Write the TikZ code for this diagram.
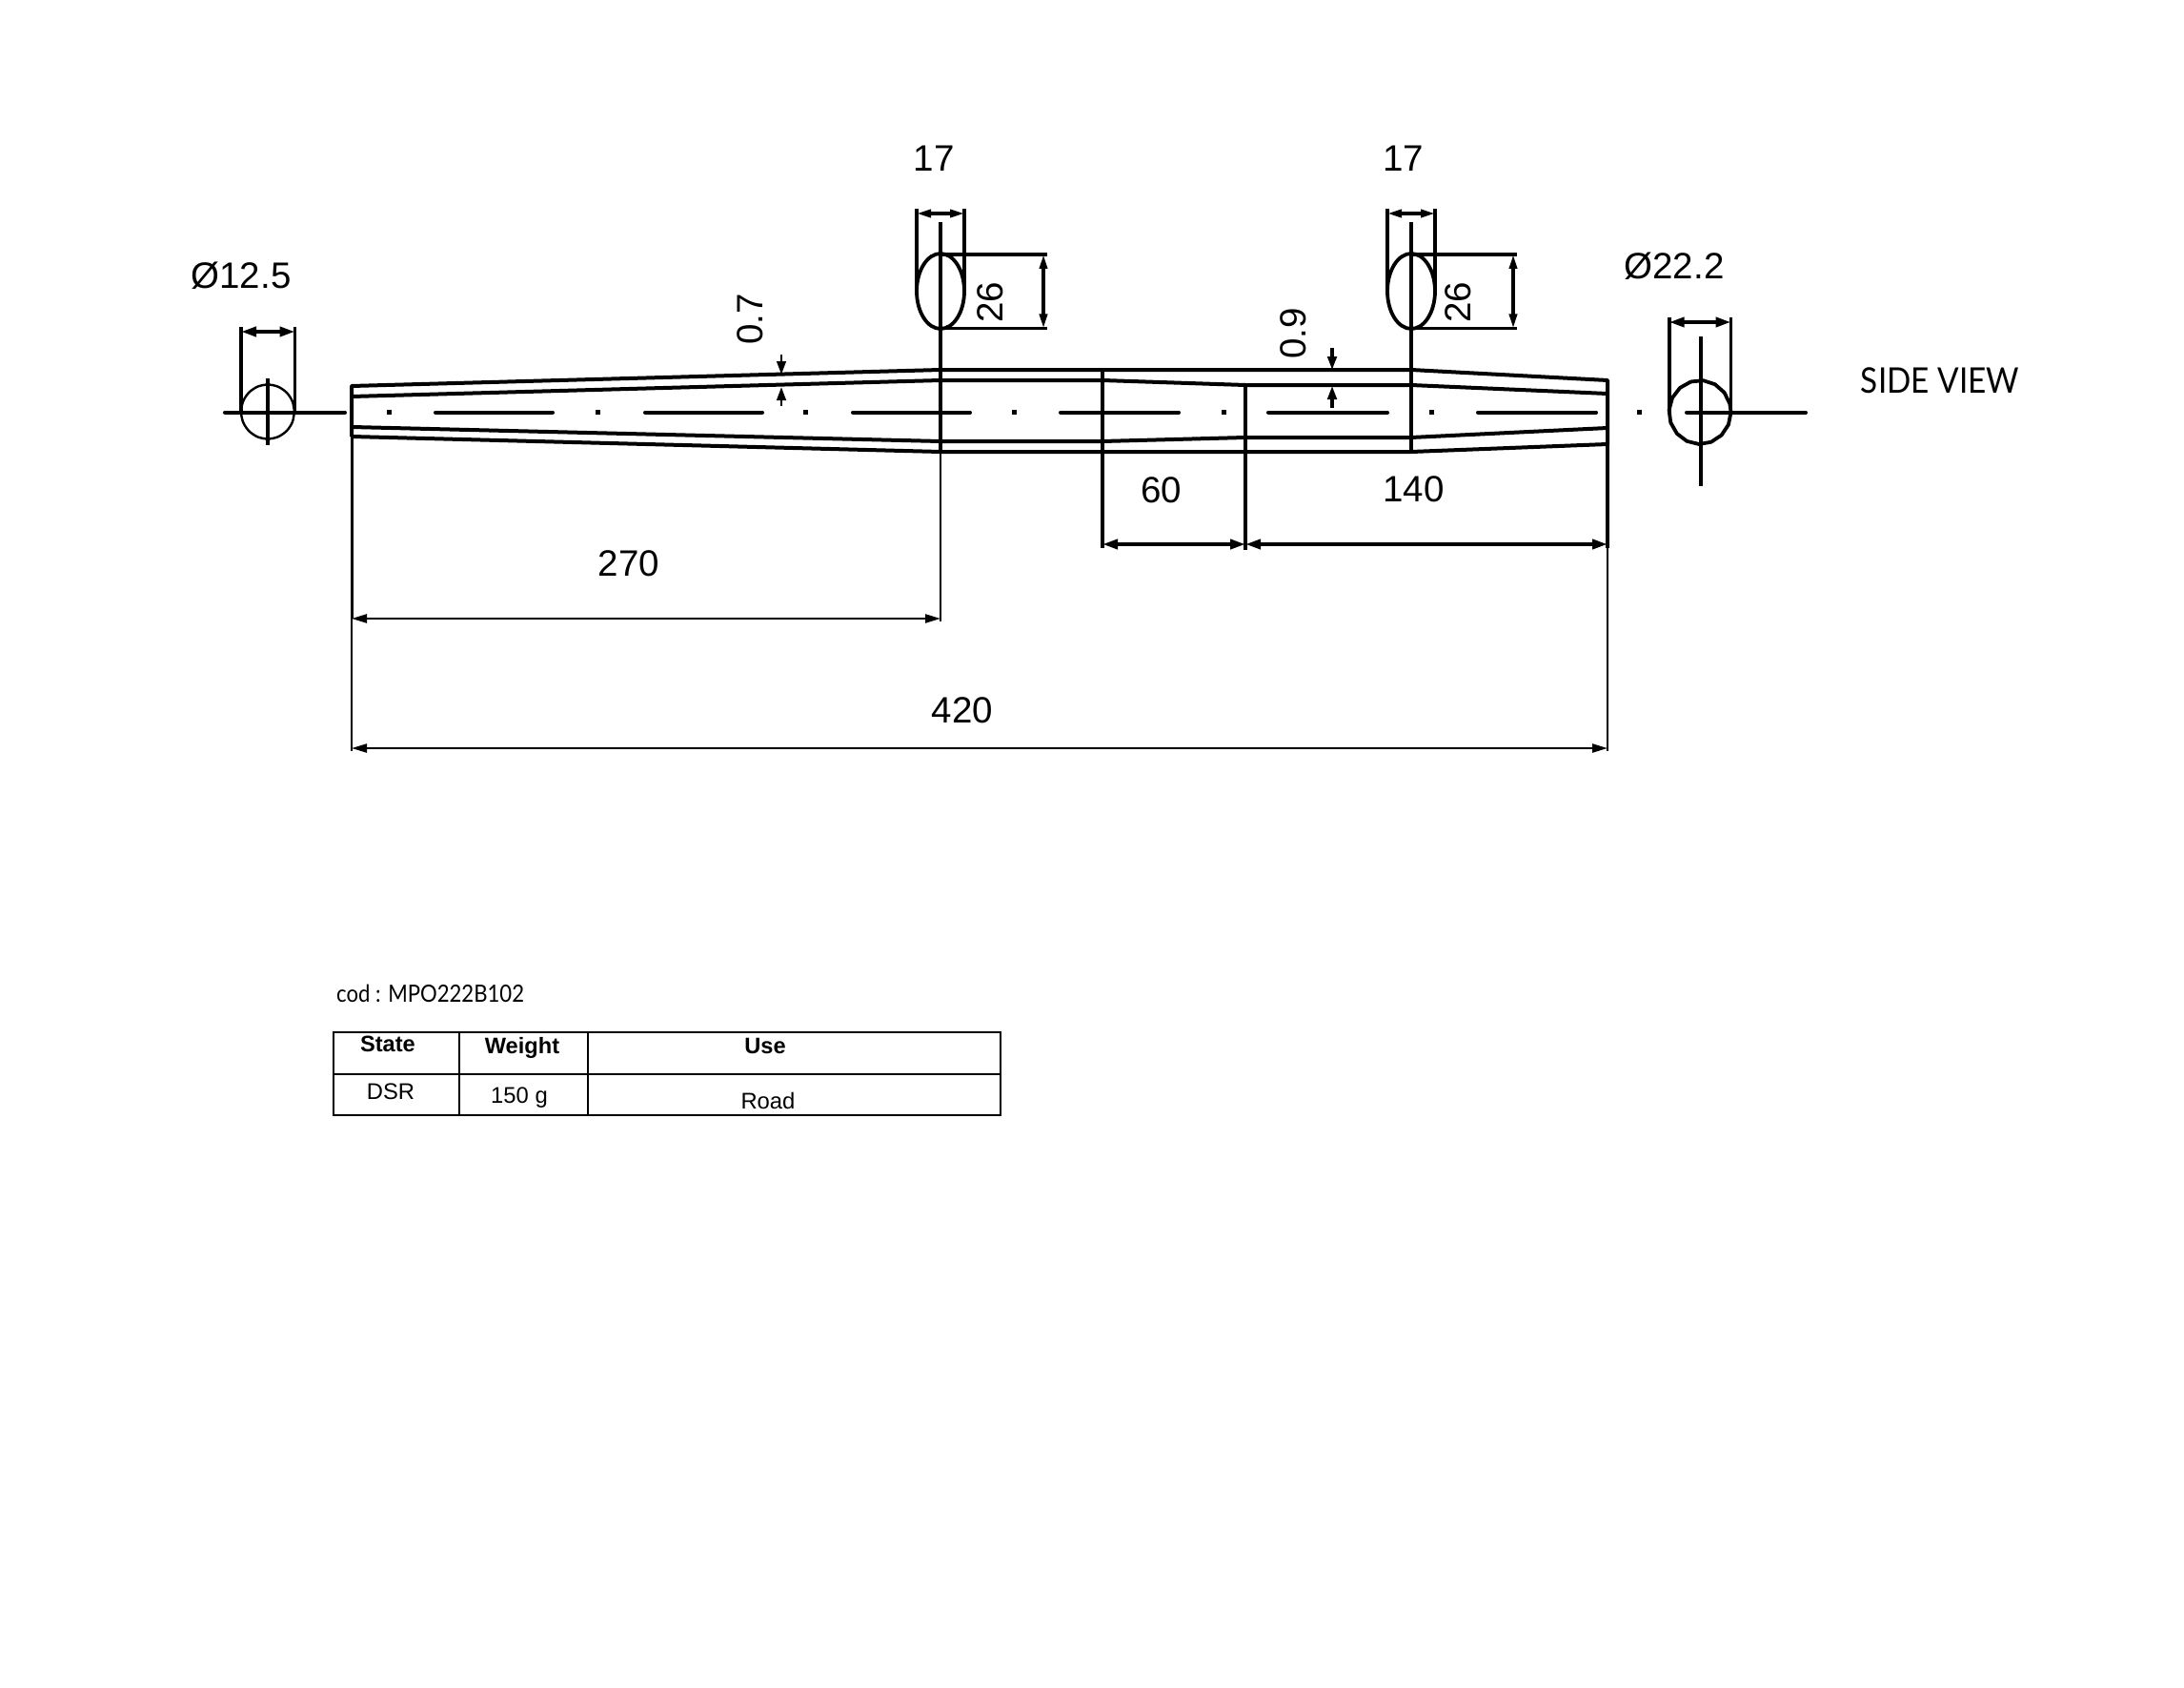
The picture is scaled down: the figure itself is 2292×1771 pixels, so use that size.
\documentclass[tikz,border=0pt]{standalone}
\usepackage{fontspec}
\setmainfont{Liberation Sans}
\newfontfamily\labelfont{Lato}
\usetikzlibrary{arrows.meta}
\tikzset{
  body/.style={line width=4pt,line join=round},
  extn/.style={line width=3.6pt},
  thinext/.style={line width=2.2pt},
  centre/.style={line width=4pt,line cap=round},
  thindim/.style={line width=2.2pt,{Triangle[length=16pt,width=9pt]}-{Triangle[length=16pt,width=9pt]}},
  smalldim/.style={line width=3.4pt,{Triangle[length=15pt,width=8pt]}-{Triangle[length=15pt,width=8pt]}},
  dimn/.style={line width=3.8pt,{Triangle[length=16pt,width=10pt]}-{Triangle[length=16pt,width=10pt]}},
  gaptip/.style={line width=2.6pt,-{Triangle[length=14pt,width=9.5pt]}},
  dimtext/.style={inner sep=0pt,anchor=base,font=\fontsize{38.5}{38.5}\selectfont},
  rottext/.style={dimtext,rotate=90},
  tabletext/.style={inner sep=0pt,anchor=base,font=\fontsize{23.8}{24}\selectfont},
  tablehead/.style={tabletext,font=\fontsize{23.6}{24}\selectfont\bfseries},
  tableline/.style={line width=2.2pt},
  dot/.style={fill=black,draw=none,minimum size=5pt,inner sep=0pt,rectangle}
}
\begin{document}
\begin{tikzpicture}[x=1pt,y=-1pt]
\useasboundingbox (0,0) rectangle (2292,1771);

% shaft
\draw[body] (369,458) -- (369,405) -- (987,388) -- (1481,388) -- (1687,399) -- (1687,466) -- (1481,474) -- (987,474) -- (369,458);
\draw[body] (369,416) -- (987,399) -- (1157,399) -- (1307,404) -- (1481,404) -- (1687,413);
\draw[body] (369,448) -- (987,463) -- (1157,463) -- (1307,459) -- (1481,459) -- (1687,449);

% centre line
\coordinate (cla) at (236,432.7); \coordinate (clb) at (362,432.7);
\coordinate (c1a) at (457,432.7); \coordinate (c1b) at (580,432.7);
\coordinate (c2a) at (677,432.7); \coordinate (c2b) at (800,432.7);
\coordinate (c3a) at (895,432.7); \coordinate (c3b) at (1018,432.7);
\coordinate (c4a) at (1113,432.7); \coordinate (c4b) at (1237,432.7);
\coordinate (c5a) at (1331,432.7); \coordinate (c5b) at (1456,432.7);
\coordinate (c6a) at (1551,432.7); \coordinate (c6b) at (1675,432.7);
\coordinate (c7a) at (1770,432.7); \coordinate (c7b) at (1895,432.7);
\foreach \a/\b in {cla/clb,c1a/c1b,c2a/c2b,c3a/c3b,c4a/c4b,c5a/c5b,c6a/c6b,c7a/c7b}
  \draw[centre] (\a) -- (\b);
\foreach \n/\x in {d1/408.6,d2/627,d3/845,d4/1064,d5/1284,d6/1502,d7/1720.5}
  \node[dot] (\n) at (\x,432) {};

% left end section
\draw[line width=2.4pt,line join=round] plot[domain=0:360,samples=17,smooth cycle] ({281+28*cos(\x)},{432+28.5*sin(\x)});
\draw[line width=3.4pt] (281,397) -- (281,467);
\draw[extn] (253,343) -- (253,433);
\draw[extn] (309.5,343) -- (309.5,433);
\coordinate (la) at (253,348); \coordinate (lb) at (309.5,348);
\draw[dimn] (la) -- (lb);
\node[dimtext] (dl) at (253,302.7) {Ø12.5};

% right end section
\draw[line width=3.8pt,line join=round] plot[domain=0:345,samples=16] ({1784+32.5*cos(\x)},{432.5+33.5*sin(\x)}) -- cycle;
\draw[line width=3.4pt] (1785,353) -- (1785,510);
\draw[extn] (1751.7,333) -- (1751.7,433);
\draw[extn] (1816.5,333) -- (1816.5,433);
\coordinate (ra) at (1751.7,338); \coordinate (rb) at (1816.5,338);
\draw[dimn] (ra) -- (rb);
\node[dimtext] (dr) at (1757,293) {Ø22.2};
\node[inner sep=0pt,anchor=base,font=\labelfont\fontsize{37}{37}\selectfont] (side) at (2036,412) {\scalebox{.9}[1]{SIDE VIEW}};

% slot 1
\draw[line width=3.8pt] (987,305.5) ellipse (25 and 39.5);
\draw[extn] (962,219) -- (962,303);
\draw[extn] (1012,219) -- (1012,303);
\draw[line width=3.4pt] (987,233) -- (987,474);
\draw[thinext] (987,474) -- (987,652);
\coordinate (s1a) at (962,224); \coordinate (s1b) at (1012,224);
\draw[smalldim] (s1a) -- (s1b);
\draw[extn] (987,267) -- (1099,267);
\draw[extn] (987,344.5) -- (1099,344.5);
\coordinate (s1c) at (1095,267); \coordinate (s1d) at (1095,344.5);
\draw[smalldim] (s1c) -- (s1d);
\node[dimtext] (t17a) at (980,180) {17};
\node[rottext] (t26a) at (1052,317) {26};

% slot 2
\draw[line width=3.8pt] (1481,305.5) ellipse (25 and 39.5);
\draw[extn] (1456,219) -- (1456,303);
\draw[extn] (1506,219) -- (1506,303);
\draw[line width=3.6pt] (1481,233) -- (1481,474);
\coordinate (s2a) at (1456,224); \coordinate (s2b) at (1506,224);
\draw[smalldim] (s2a) -- (s2b);
\draw[extn] (1481,267) -- (1592,267);
\draw[extn] (1481,344.5) -- (1592,344.5);
\coordinate (s2c) at (1588,267); \coordinate (s2d) at (1588,344.5);
\draw[smalldim] (s2c) -- (s2d);
\node[dimtext] (t17b) at (1472.5,180) {17};
\node[rottext] (t26b) at (1543,317) {26};

% wall thickness
\coordinate (w1a) at (820,372); \coordinate (w1b) at (820,393);
\coordinate (w1c) at (820,426); \coordinate (w1d) at (820,406);
\draw[gaptip] (w1a) -- (w1b);
\draw[gaptip] (w1c) -- (w1d);
\node[rottext] (t07) at (800,335) {0.7};
\coordinate (w2a) at (1398,365); \coordinate (w2b) at (1398,388);
\coordinate (w2c) at (1398,428); \coordinate (w2d) at (1398,405);
\draw[gaptip,line width=3.2pt] (w2a) -- (w2b);
\draw[gaptip,line width=3.2pt] (w2c) -- (w2d);
\node[rottext] (t09) at (1370,350) {0.9};

% length dimensions
\draw[extn] (1157,388) -- (1157,575);
\draw[extn] (1307,404) -- (1307,577);
\draw[line width=3pt] (369,458) -- (369,649);
\draw[line width=2.2pt] (369,649) -- (369,788);
\draw[line width=3.8pt] (1687,466) -- (1687,575);
\draw[line width=2.2pt] (1687,575) -- (1687,788);
\coordinate (a1) at (1157,571) ; \coordinate (a2) at (1307,571); \coordinate (a3) at (1687,571);
\draw[dimn] (a1) -- (a2);
\draw[dimn] (a2) -- (a3);
\coordinate (b1) at (369,649); \coordinate (b2) at (987,649);
\draw[thindim] (b1) -- (b2);
\coordinate (e1) at (369,785); \coordinate (e2) at (1687,785);
\draw[thindim] (e1) -- (e2);
\node[dimtext] (t60) at (1218.5,527) {60};
\node[dimtext] (t140) at (1483.6,526) {140};
\node[dimtext] (t270) at (660,604.5) {270};
\node[dimtext] (t420) at (1010,758.5) {420};

% table
\node[inner sep=0pt,anchor=base west,font=\labelfont\fontsize{25}{25}\selectfont] (cod) at (353,1051) {\scalebox{.885}[1]{cod : MPO222B102}};
\draw[tableline] (350,1083) rectangle (1050,1170);
\draw[tableline] (350,1127) -- (1050,1127);
\draw[tableline] (482,1083) -- (482,1170);
\draw[tableline] (617,1083) -- (617,1170);
\node[tablehead] (h1) at (407,1103) {State};
\node[tablehead] (h2) at (548,1105) {Weight};
\node[tablehead] (h3) at (803,1105) {Use};
\node[tabletext] (v1) at (410,1153) {DSR};
\node[tabletext] (v2) at (545,1157) {150 g};
\node[tabletext] (v3) at (806,1163) {Road};
\end{tikzpicture}
\end{document}
